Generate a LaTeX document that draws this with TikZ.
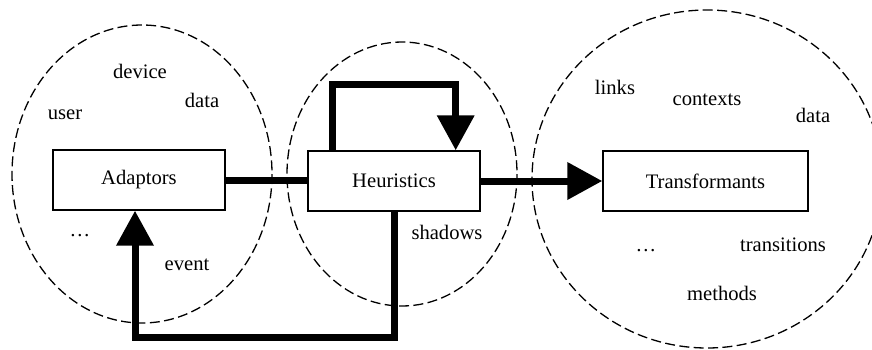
\documentclass[tikz,border=0pt]{standalone}
\usepackage{fontspec}
\setmainfont{Liberation Serif}
\usepackage{tikz}
\usetikzlibrary{arrows.meta,calc}
\tikzset{
  zone/.style={draw=black, line width=0.65pt, dash pattern=on 5pt off 2.2pt},
  box/.style={draw=black, fill=white, line width=0.7pt, minimum height=30pt, font=\fontsize{10.3}{12}\selectfont},
  flow/.style={draw=black, line width=3.5pt},
  head/.style={-{Triangle[length=17.5pt, width=18pt]}},
  word/.style={font=\fontsize{10.3}{12}\selectfont}
}

\begin{document}
\begin{tikzpicture}[x=0.5pt, y=-0.5pt]
  \clip (0,0) rectangle (872,349);

  % the three zones
  \draw[zone] (142,174) ellipse [x radius=130, y radius=149];
  \draw[zone] (402,174) ellipse [x radius=115, y radius=132];
  \draw[zone] (707,179) ellipse [x radius=175, y radius=169];

  \node[box, minimum width=86pt] (adapt) at (139,180) {Adaptors};
  \node[box, minimum width=86pt] (heur) at (394,181) {Heuristics};
  \node[box, minimum width=102.5pt] (trans) at (705.5,181) {Transformants};

  \coordinate (loopL) at ($(heur.north west)+(25,0)$);
  \coordinate (loopR) at ($(heur.north east)+(-25,0)$);
  \coordinate (back) at ($(adapt.south)+(-4,0)$);

  \draw[flow] (adapt.east) -- (adapt.east -| heur.west);
  \draw[flow, head] (heur.east) -- (heur.east -| trans.west);
  \draw[flow, head] (loopL) -- ++(0,-66) -| (loopR);
  \draw[flow, head] (heur.south) -- ++(0,126) -| (back);

  % left zone
  \node[word] (device) at (140,71) {device};
  \node[word] (dataA) at (202,100) {data};
  \node[word] (user) at (65,115) {user};
  \node[word] (dotsA) at (80,236) {\dots};
  \node[word] (event) at (187,265) {event};

  % middle zone
  \node[word] (shadows) at (447,232) {shadows};

  % right zone
  \node[word] (links) at (615,87) {links};
  \node[word] (contexts) at (707,100) {contexts};
  \node[word] (dataT) at (813,115) {data};
  \node[word] (transitions) at (783,245) {transitions};
  \node[word] (dotsT) at (646,251) {\dots};
  \node[word] (methods) at (722,293) {methods};
\end{tikzpicture}
\end{document}
